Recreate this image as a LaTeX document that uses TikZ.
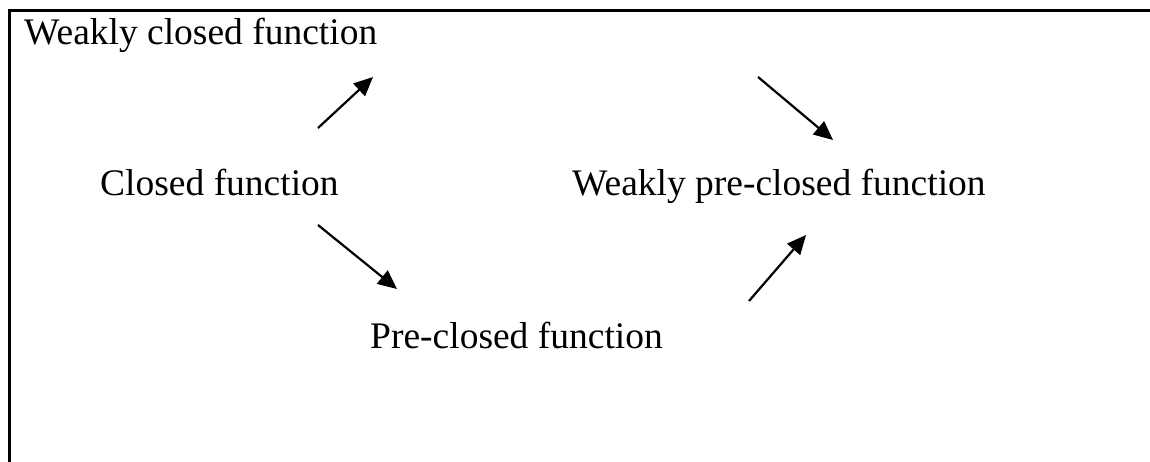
\documentclass[tikz,border=0pt]{standalone}
\usepackage{fontspec}
\setmainfont{Liberation Serif}
\usetikzlibrary{arrows.meta}
\begin{document}
\begin{tikzpicture}[x=1pt,y=-1pt,
  lbl/.style={anchor=base west,inner sep=0pt,font=\fontsize{37.5}{40}\selectfont},
  imp/.style={line width=2.2pt,-{Triangle[length=19pt,width=17pt]}},
  frameline/.style={line width=3pt}]
\useasboundingbox (0,0) rectangle (1150,462);
% frame (top and left edges only)
\coordinate (fA) at (1152,11);
\coordinate (fB) at (9,11);
\coordinate (fC) at (9,464);
\draw[frameline] (fA) -- (fB) -- (fC);
% labels
\node[lbl] (wc) at (24,45) {Weakly closed function};
\node[lbl] (c) at (100,196) {Closed function};
\node[lbl] (wpc) at (572,196) {Weakly pre-closed function};
\node[lbl] (pc) at (370,348) {Pre-closed function};
% arrow endpoints
\coordinate (a1s) at (318,128); \coordinate (a1e) at (373,77);
\coordinate (a2s) at (758,77);  \coordinate (a2e) at (833,140);
\coordinate (a3s) at (318,225); \coordinate (a3e) at (397,289);
\coordinate (a4s) at (749,301); \coordinate (a4e) at (806,235);
\draw[imp] (a1s) -- (a1e);
\draw[imp] (a2s) -- (a2e);
\draw[imp] (a3s) -- (a3e);
\draw[imp] (a4s) -- (a4e);
\end{tikzpicture}
\end{document}
